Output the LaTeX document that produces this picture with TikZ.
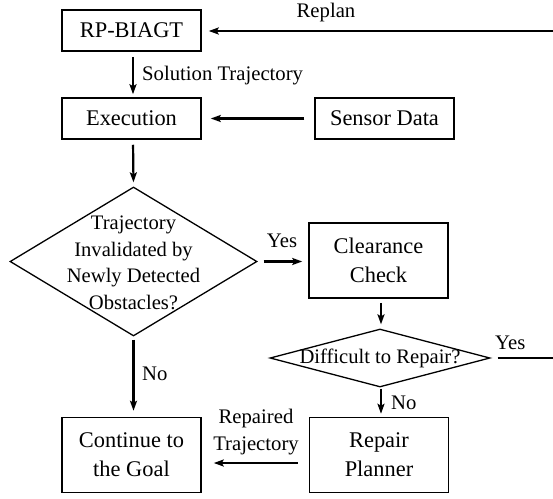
\documentclass[tikz,border=0pt]{standalone}
\usepackage{fontspec}
\setmainfont{Liberation Serif}
\usetikzlibrary{arrows.meta,shapes.geometric}
\begin{document}
\begin{tikzpicture}[x=1pt,y=-1pt,
  box/.style={draw,line width=1.5pt,minimum width=139pt,inner sep=0pt,align=center,font=\fontsize{22.4}{29}\selectfont},
  box1/.style={box,minimum height=41pt},
  box2/.style={box,minimum height=75pt},
  dia/.style={draw,diamond,line width=1.3pt,inner sep=0pt},
  diatext/.style={align=center,font=\fontsize{20.6}{26.5}\selectfont,inner sep=0pt},
  lab/.style={font=\fontsize{20.7}{26.5}\selectfont,inner sep=0pt,align=center},
  arr/.style={line width=2.2pt,-{Stealth[length=10pt,width=7pt,inset=2pt]}},
  ln/.style={line width=2.2pt}]
\useasboundingbox (0,0) rectangle (553,498);
\node[box1] (rp) at (131.5,30.5) {RP-BIAGT};
\node[box1] (ex) at (131.5,118.5) {Execution};
\node[box1] (sd) at (384.5,118.5) {Sensor Data};
\node[dia,minimum width=247pt,minimum height=149pt] (d1) at (133.5,261.5) {};
\node[diatext] (d1t) at (133.5,263) {Trajectory\\Invalidated by\\Newly Detected\\Obstacles?};
\node[box2] (cc) at (378.5,260.5) {Clearance\\Check};
\node[dia,minimum width=220pt,minimum height=58pt] (d2) at (380,358) {};
\node[diatext] (d2t) at (380,358) {Difficult to Repair?};
\node[box2] (rpl) at (379,455) {Repair\\Planner};
\node[box2] (cg) at (131.5,455) {Continue to\\the Goal};
\coordinate (rr) at (553,31);
\coordinate (yr) at (553,358);
% connectors
\draw[arr,shorten >=7pt] (rr) -- (rp.east |- rr);
\draw[arr,shorten <=5pt,shorten >=3pt] (rp.south -| 133,0) -- (ex.north -| 133,0);
\draw[arr,shorten <=10pt,shorten >=9pt] (sd.west) -- (ex.east);
\draw[arr,shorten <=5pt,shorten >=4pt] (ex.south -| 133,0) -- (d1.north);
\draw[arr,shorten <=6pt,shorten >=6pt] (d1.east) -- (cc.west |- d1.east);
\draw[arr,shorten <=4pt,shorten >=4pt] (cc.south -| 381,0) -- (d2.north -| 381,0);
\draw[ln,shorten <=7pt] (d2.east) -- (yr);
\draw[arr,shorten <=1pt,shorten >=3pt] (d2.south -| 381,0) -- (rpl.north -| 381,0);
\draw[arr,shorten <=11pt,shorten >=12pt] ([yshift=-8pt]rpl.west) -- ([yshift=-8pt]cg.east);
\draw[arr,shorten <=3pt,shorten >=6pt] (d1.south) -- (cg.north -| d1.south);
% labels
\node[lab] (lrep) at (326,13) {Replan};
\node[lab,anchor=west] (lsol) at (142,76) {Solution Trajectory};
\node[lab] (lyes1) at (282,241) {Yes};
\node[lab,anchor=west] (lyes2) at (495,343) {Yes};
\node[lab,anchor=west] (lno1) at (142,374) {No};
\node[lab,anchor=west] (lno2) at (391,403) {No};
\node[lab] (lrt) at (256,432) {Repaired\\Trajectory};
\end{tikzpicture}
\end{document}
